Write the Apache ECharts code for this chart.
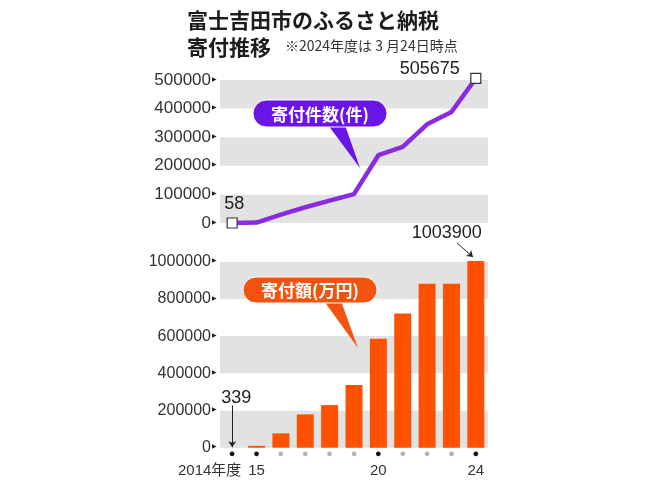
<!DOCTYPE html>
<html>
<head>
<meta charset="utf-8">
<script src="https://cdn.jsdelivr.net/npm/echarts@6/dist/echarts.min.js"></script>
<style>
  html, body { margin: 0; padding: 0; background: #fff; }
  #chart { width: 650px; height: 482px; }
</style>
</head>
<body>
<div id="chart"></div>
<script>
// years (fiscal) and values
let years = ['2014', '2015', '2016', '2017', '2018', '2019', '2020', '2021', '2022', '2023', '2024'];
let yearLabels = ['2014年度', '15', '', '', '', '', '20', '', '', '', '24'];
let countValues = [58, 1500, 29000, 55000, 78000, 101000, 237000, 266000, 345000, 388000, 505675];
let amountValues = [339, 10000, 77000, 179000, 229000, 337000, 586000, 722000, 882000, 882000, 1003900];

let myChart = echarts.init(document.getElementById('chart'));

const numFont = "'Liberation Sans', Arial, sans-serif";
const jpFont = "'Noto Sans CJK JP', sans-serif";
const narrowFont = "'Liberation Sans Narrow', 'Liberation Sans', 'Noto Sans CJK JP', sans-serif";
const purple = '#8a2be2';
const orange = '#ff5200';
const band = ['#e2e2e2', '#ffffff'];

function yLabel(size) {
    return {
        margin: 3,
        showMaxLabel: false,
        formatter: function (v) { return '{v|' + v + '}{t|▶}'; },
        rich: {
            v: { fontSize: size, color: '#333', fontFamily: numFont },
            t: { fontSize: 6, color: '#222', padding: [0, 0, 2, 1] }
        }
    };
}

// end markers only on first / last point
let countData = countValues.map(function (v, i) {
    if (i === 0 || i === countValues.length - 1) {
        return { value: v, symbol: 'rect', symbolSize: 10 };
    }
    return { value: v, symbol: 'none' };
});

let amountData = amountValues.map(function (v, i) {
    if (i === 0) {
        return { value: v, label: { show: true, position: 'top', offset: [4, -36] } };
    }
    if (i === amountValues.length - 1) {
        return { value: v, label: { show: true, position: 'top', offset: [-29, -14] } };
    }
    return v;
});

const noAnim = { duration: 0 };

// callout bubble: pointer, rounded box, text
function bubble(x, y, w, h, tip, base, text, color) {
    return [
        { type: 'polygon', z: 100, enterAnimation: noAnim,
          shape: { points: [[base[0], y + h - 2], [base[1], y + h - 2], tip] },
          style: { fill: color } },
        { type: 'rect', z: 101, enterAnimation: noAnim,
          shape: { x: x, y: y, width: w, height: h, r: h / 2 },
          style: { fill: color, stroke: '#fff', lineWidth: 1 } },
        { type: 'text', z: 102, enterAnimation: noAnim,
          x: x + w / 2, y: y + h / 2 + 1,
          style: { text: text, fill: '#fff', font: 'bold 17px ' + jpFont,
                   align: 'center', verticalAlign: 'middle' } }
    ];
}

myChart.setOption({
    animation: false,
    title: [
        {
            left: 182, top: 2,
            text: '富士吉田市のふるさと納税\n寄付推移',
            textStyle: { fontSize: 21, fontWeight: 'bold', color: '#1c1c1c', lineHeight: 27, fontFamily: jpFont }
        },
        {
            left: 280, top: 34,
            text: '※2024年度は 3 月24日時点',
            textStyle: { fontSize: 14, fontWeight: 'normal', color: '#333', fontFamily: jpFont }
        }
    ],
    grid: [
        { left: 220, width: 268, top: 78.4, height: 144.6 },
        { left: 220, width: 268, top: 261, height: 186.7 }
    ],
    xAxis: [
        {
            gridIndex: 0, type: 'category', data: years,
            axisLine: { show: false }, axisTick: { show: false }, axisLabel: { show: false }
        },
        {
            gridIndex: 1, type: 'category', data: years,
            axisLine: { show: false }, axisTick: { show: false },
            axisLabel: {
                interval: 0, margin: 0,
                formatter: function (v, i) {
                    let lab = yearLabels[i];
                    if (!lab) return '{g|●}';
                    if (i === 0) return '{d|●}\n{f|' + lab + '}';
                    return '{d|●}\n{l|' + lab + '}';
                },
                rich: {
                    d: { fontSize: 11, color: '#111', lineHeight: 12 },
                    g: { fontSize: 11, color: '#b4b4b4', lineHeight: 12 },
                    l: { fontSize: 15, color: '#333', fontFamily: narrowFont, lineHeight: 22 },
                    f: { fontSize: 15, color: '#333', fontFamily: narrowFont, lineHeight: 22, padding: [0, 45, 0, 0] }
                }
            }
        }
    ],
    yAxis: [
        {
            gridIndex: 0, type: 'value', min: 0, max: 505675, interval: 100000,
            axisLine: { show: false }, axisTick: { show: false },
            splitLine: { show: false },
            splitArea: { show: true, areaStyle: { color: band } },
            axisLabel: yLabel(17)
        },
        {
            gridIndex: 1, type: 'value', min: 0, max: 1003900, interval: 200000,
            axisLine: { show: false }, axisTick: { show: false },
            splitLine: { show: false },
            splitArea: { show: true, areaStyle: { color: band } },
            axisLabel: yLabel(16)
        }
    ],
    series: [
        {
            name: '寄付件数(件)', type: 'line',
            xAxisIndex: 0, yAxisIndex: 0,
            data: countData,
            showSymbol: true,
            lineStyle: { color: purple, width: 4.5 },
            itemStyle: { color: '#fff', borderColor: '#333', borderWidth: 1.2 },
            z: 3,
            label: {
                show: true, fontSize: 18, color: '#222', fontFamily: numFont,
                formatter: function (p) {
                    return (p.dataIndex === 0 || p.dataIndex === countValues.length - 1) ? p.value : '';
                },
                position: 'top', distance: 8
            },
            labelLayout: function (p) {
                if (p.dataIndex === countValues.length - 1) {
                    return { dx: -46, dy: 13 };
                }
                return { dx: 2, dy: 4 };
            }
        },
        {
            name: '寄付額(万円)', type: 'bar',
            xAxisIndex: 1, yAxisIndex: 1,
            data: amountData,
            barWidth: 17,
            itemStyle: { color: orange },
            label: { show: false, fontSize: 18, color: '#222', fontFamily: numFont },
            markLine: {
                silent: true,
                symbol: ['none', 'arrow'],
                symbolSize: 6,
                label: { show: false },
                lineStyle: { color: '#222', width: 1, type: 'solid' },
                data: [
                    [{ coord: [0, 228000] }, { coord: [0, 3000] }],
                    [{ x: 457, y: 243 }, { x: 473, y: 257 }]
                ]
            }
        }
    ],
    graphic: bubble(253, 100, 134, 27, [360, 168], [328, 345], '寄付件数(件)', '#6a14e6')
        .concat(bubble(243, 277, 134, 26, [358, 348], [324, 341], '寄付額(万円)', '#f25410'))
});

window.addEventListener('resize', function () {
    myChart.resize();
});
</script>
</body>
</html>
